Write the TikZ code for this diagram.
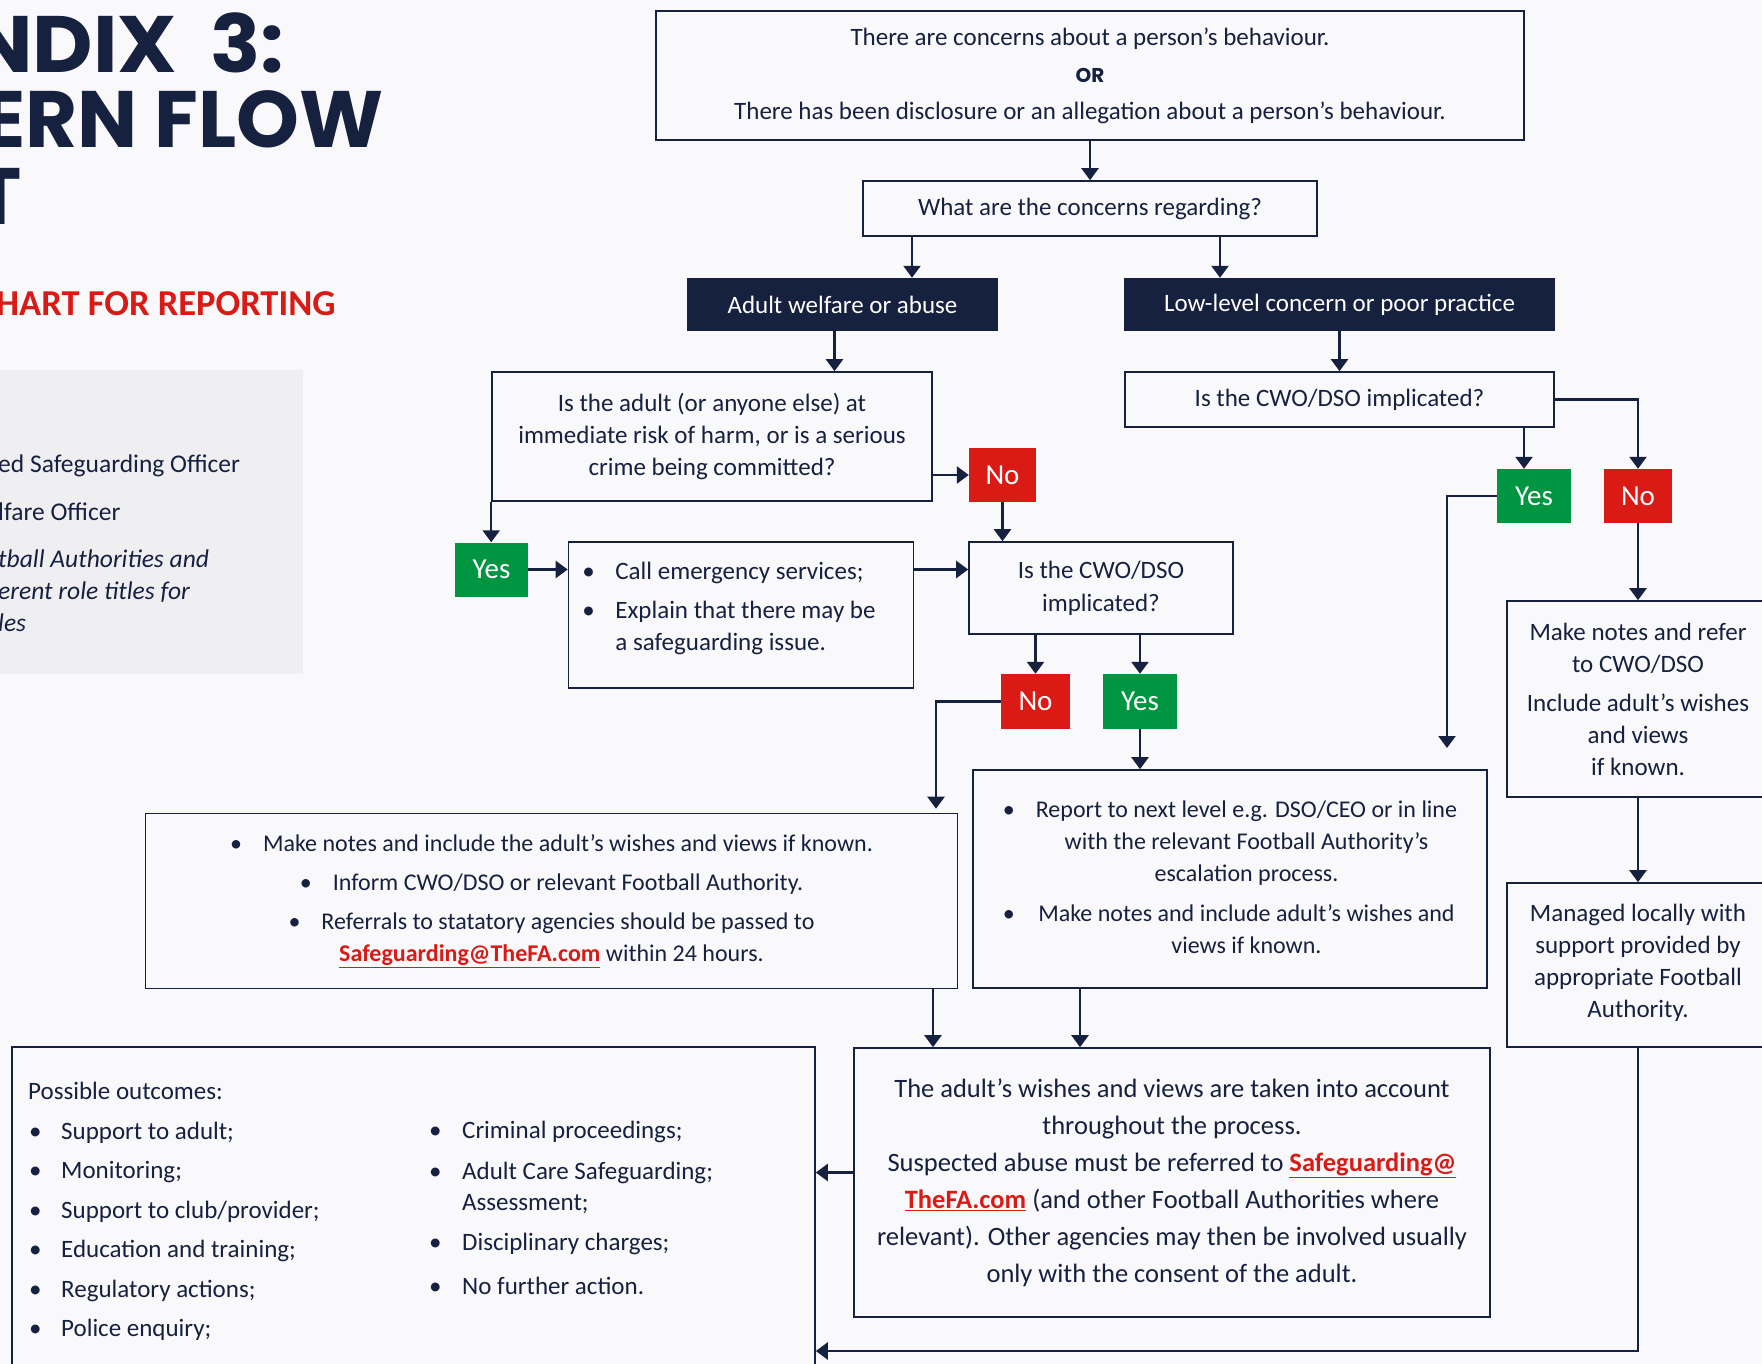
\documentclass[tikz,border=0pt]{standalone}
\usepackage{fontspec}
\usepackage{graphicx}
\setmainfont{Carlito}
\newfontfamily\headfont{Poppins}
\usetikzlibrary{arrows.meta}

\definecolor{fanavy}{RGB}{22,32,63}
\definecolor{fared}{RGB}{218,26,21}
\definecolor{fagreen}{RGB}{0,149,64}
\definecolor{panelgrey}{RGB}{239,239,242}
\definecolor{pagebg}{RGB}{249,249,251}

\newcommand{\falink}[1]{{\color{fared}\bfseries\underline{#1}}}
\newcommand{\bul}{\makebox[33pt][l]{\textbullet}}

\tikzset{
	box/.style={draw=fanavy, line width=1.6pt, inner sep=0pt, align=center, text=fanavy, font=\fontsize{25}{32}\selectfont},
	darkbox/.style={fill=fanavy, text=white, inner sep=0pt, font=\fontsize{25}{32}\selectfont},
	yesbox/.style={fill=fagreen, text=white, inner sep=0pt, font=\fontsize{29}{30}\selectfont},
	nobox/.style={fill=fared, text=white, inner sep=0pt, font=\fontsize{29}{30}\selectfont},
	plain/.style={text=fanavy, inner sep=0pt, align=left, font=\fontsize{25}{32}\selectfont},
	heading/.style={anchor=base west, inner sep=0pt, text=fanavy, font=\headfont\bfseries\fontsize{80}{80}\selectfont},
	panel/.style={anchor=base west, inner sep=0pt, text=fanavy, font=\fontsize{25.5}{32}\selectfont},
	arr/.style={draw=fanavy, line width=2.4pt, -{Triangle[width=17pt,length=12pt]}},
}

\begin{document}
\begin{tikzpicture}[x=1pt,y=-1pt]
	
	\useasboundingbox (0,0) rectangle (1762,1364);
	\fill[pagebg] (0,0) rectangle (1762,1364);
	\clip (0,0) rectangle (1762,1364);
	
	% heading on the left
	\node[heading] (headA) at (-30,73) {\scalebox{1.04}[1]{NDIX\hspace{0.4em}3:}};
	\node[heading] (headB) at (-18,148) {ERN FLOW};
	\node[heading] (headC) at (-26,225) {T};
	\node[panel, text=fared, font=\bfseries\fontsize{36.5}{36.5}\selectfont] (headD) at (-4,316) {HART FOR REPORTING};
	
	\fill[panelgrey] (0,370) rectangle (303,674);
	\node[panel] (roleA) at (-2,472) {ed Safeguarding Officer};
	\node[panel] (roleB) at (-2,520) {lfare Officer};
	\node[panel, font=\itshape\fontsize{25.5}{32}\selectfont] (roleC) at (-2,567) {tball Authorities and};
	\node[panel, font=\itshape\fontsize{25.5}{32}\selectfont] (roleD) at (-2,599) {erent role titles for};
	\node[panel, font=\itshape\fontsize{25.5}{32}\selectfont] (roleE) at (-2,631) {les};
	
	% top of the chart
	\node[box, minimum width=868pt, minimum height=129pt] (concern) at (1090,75.5)
		{There are concerns about a person’s behaviour.\\[5pt]
		{\headfont\bfseries\fontsize{20}{32}\selectfont OR}\\[5pt]
		There has been disclosure or an allegation about a person’s behaviour.};
	\node[box, minimum width=454pt, minimum height=55pt] (regard) at (1090,208.5) {What are the concerns regarding?};
	\node[darkbox, minimum width=311pt, minimum height=53pt] (adultw) at (842.5,304.5) {Adult welfare or abuse};
	\node[darkbox, minimum width=431pt, minimum height=53pt] (lowlvl) at (1339.5,304.5) {Low-level concern or poor practice};
	
	% adult welfare branch
	\node[box, minimum width=440pt, minimum height=129pt] (risk) at (712,436.5)
		{Is the adult (or anyone else) at\\immediate risk of harm, or is a serious\\crime being committed?};
	\node[nobox, minimum width=67pt, minimum height=54pt] (noA) at (1002.5,475) {No};
	\node[yesbox, minimum width=73pt, minimum height=54pt] (yesA) at (491.5,569.5) {Yes};
	\node[box, align=left, minimum width=345pt, minimum height=146pt] (emerg) at (741,615)
		{\bul Call emergency services;\\[7pt]\bul Explain that there may be\makebox[24pt]{}\\\hspace*{33pt}a safeguarding issue.\\[-14pt]\mbox{}};
	\node[box, minimum width=264pt, minimum height=92pt] (cwoM) at (1101,588) {Is the CWO/DSO\\[1pt]implicated?};
	\node[nobox, minimum width=69pt, minimum height=55pt] (noB) at (1035.5,701.5) {No};
	\node[yesbox, minimum width=74pt, minimum height=55pt] (yesB) at (1140,701.5) {Yes};
	\node[box, minimum width=812pt, minimum height=175pt, font=\fontsize{24}{32}\selectfont] (notesL) at (551.5,901)
		{\bul Make notes and include the adult’s wishes and views if known.\\[7pt]
		\bul Inform CWO/DSO or relevant Football Authority.\\[7pt]
		\bul Referrals to statatory agencies should be passed to\\
		\falink{Safeguarding@TheFA.com} within 24 hours.};
	\node[box, minimum width=514pt, minimum height=218pt, font=\fontsize{24}{32}\selectfont] (report) at (1230,879)
		{\begin{tabular}{@{}l@{}c@{}}
			\bul & Report to next level e.g. DSO/CEO or in line\\
			& with the relevant Football Authority’s\\
			& escalation process.\\[8pt]
			\bul & Make notes and include adult’s wishes and\\
			& views if known.
		\end{tabular}};
	
	% low-level branch
	\node[box, minimum width=429pt, minimum height=55pt] (cwoR) at (1339.5,399.5) {Is the CWO/DSO implicated?};
	\node[yesbox, minimum width=74pt, minimum height=54pt] (yesC) at (1534,496) {Yes};
	\node[nobox, minimum width=68pt, minimum height=54pt] (noC) at (1638,496) {No};
	\node[box, minimum width=262pt, minimum height=196pt] (refer) at (1638,699)
		{Make notes and refer\\to CWO/DSO\\[7pt]Include adult’s wishes\\and views\\if known.};
	\node[box, minimum width=262pt, minimum height=164pt] (managed) at (1638,965)
		{Managed locally with\\support provided by\\appropriate Football\\Authority.\\[-23pt]\mbox{}};
	\coordinate (yesEnd) at (1447,748);
	
	% bottom of the chart
	\node[box, minimum width=636pt, minimum height=269pt, font=\fontsize{26.5}{37}\selectfont] (wishes) at (1172,1182.5)
		{The adult’s wishes and views are taken into account\\
		throughout the process.\\
		Suspected abuse must be referred to \falink{Safeguarding@}\\
		\falink{TheFA.com} (and other Football Authorities where\\
		relevant). Other agencies may then be involved usually\\
		only with the consent of the adult.};
	\node[box, minimum width=803pt, minimum height=345pt] (outcomes) at (413.5,1219.5) {};
	\node[plain, anchor=north west, font=\fontsize{25}{39.5}\selectfont] (outL) at (28,1082)
		{Possible outcomes:\\
		\hspace*{1pt}\makebox[32pt][l]{\textbullet}Support to adult;\\
		\hspace*{1pt}\makebox[32pt][l]{\textbullet}Monitoring;\\
		\hspace*{1pt}\makebox[32pt][l]{\textbullet}Support to club/provider;\\
		\hspace*{1pt}\makebox[32pt][l]{\textbullet}Education and training;\\
		\hspace*{1pt}\makebox[32pt][l]{\textbullet}Regulatory actions;\\
		\hspace*{1pt}\makebox[32pt][l]{\textbullet}Police enquiry;};
	\node[plain, anchor=north west, font=\fontsize{25}{31}\selectfont] (outR) at (429,1121)
		{\bul Criminal proceedings;\\[10pt]
		\bul Adult Care Safeguarding;\\
		\hspace*{33pt}Assessment;\\[9pt]
		\bul Disciplinary charges;\\[13pt]
		\bul No further action.};
	
	% connectors
	\draw[arr] (concern.south) -- (regard.north);
	\draw[arr] ([xshift=-178pt]regard.south) -- ([xshift=-178pt]regard.south |- adultw.north);
	\draw[arr] ([xshift=130pt]regard.south) -- ([xshift=130pt]regard.south |- lowlvl.north);
	\draw[arr] ([xshift=-8pt]adultw.south) -- ([xshift=-8pt]adultw.south |- risk.north);
	\draw[arr] (lowlvl.south) -- (cwoR.north);
	\draw[arr] (risk.east |- noA.west) -- (noA.west);
	\draw[arr] (risk.south west) -- (risk.south west |- yesA.north);
	\draw[arr] (yesA.east) -- (yesA.east -| emerg.west);
	\draw[arr] (emerg.east |- yesA.east) -- (cwoM.west |- yesA.east);
	\draw[arr] (noA.south) -- (noA.south |- cwoM.north);
	\draw[arr] (cwoM.south -| noB.north) -- (noB.north);
	\draw[arr] (cwoM.south -| yesB.north) -- (yesB.north);
	\draw[arr] (noB.west) -| ([xshift=384.5pt,yshift=4pt]notesL.north);
	\draw[arr] (yesB.south) -- (yesB.south |- report.north);
	\draw[arr] (cwoR.east) -| (noC.north);
	\draw[arr] ([xshift=-10pt]yesC.north |- cwoR.south) -- ([xshift=-10pt]yesC.north);
	\draw[arr] (yesC.west) -| (yesEnd);
	\draw[arr] (noC.south) -- (refer.north);
	\draw[arr] (refer.south) -- (managed.north);
	\draw[arr] ([xshift=381.5pt]notesL.south) -- ([xshift=381.5pt]notesL.south |- wishes.north);
	\draw[arr] ([xshift=-150pt]report.south) -- ([xshift=-150pt]report.south |- wishes.north);
	\draw[arr] ([yshift=10pt]wishes.west) -- ([yshift=10pt]wishes.west -| outcomes.east);
	\draw[arr] (managed.south) |- ([yshift=-131.5pt]outcomes.east);
	
\end{tikzpicture}
\end{document}
